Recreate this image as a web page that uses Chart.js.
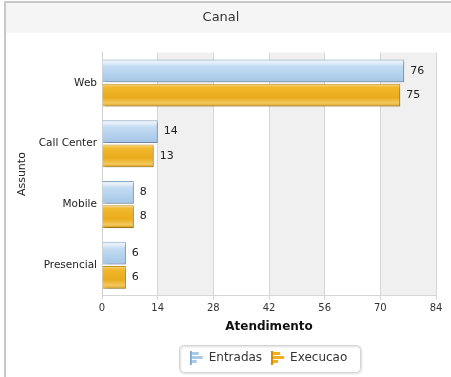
<!DOCTYPE html>
<html>
<head>
<meta charset="utf-8">
<script src="https://cdn.jsdelivr.net/npm/chart.js@4.4.0/dist/chart.umd.min.js"></script>
<style>
  html, body { margin: 0; padding: 0; background: #fff; }
</style>
</head>
<body>
<canvas id="canalChart" width="451" height="377"></canvas>
<script>
// data
const categories = ['Web', 'Call Center', 'Mobile', 'Presencial'];
const entradas = [76, 14, 8, 6];
const execucao = [75, 13, 8, 6];
const xTicks = [0, 14, 28, 42, 56, 70, 84];

const FONT = 'DejaVu Sans, Verdana, sans-serif';

// small bar-chart icons for the legend
function legendIcon(light, dark) {
  const c = document.createElement('canvas');
  c.width = 14; c.height = 14;
  const g = c.getContext('2d');
  g.fillStyle = dark;
  g.fillRect(0, 0, 2, 14);
  g.fillStyle = light;
  g.fillRect(2, 1, 7, 3);
  g.fillRect(2, 5, 11, 3);
  g.fillRect(2, 9, 5, 3);
  return c;
}
const iconBlue = legendIcon('#a9cbe8', '#7fa6cc');
const iconGold = legendIcon('#f0b020', '#d89000');

function barGradient(ctx, top, bottom, stops) {
  const gr = ctx.createLinearGradient(0, top, 0, bottom);
  stops.forEach(s => gr.addColorStop(s[0], s[1]));
  return gr;
}
const blueStops = [[0, '#dceaf7'], [0.12, '#e9f2fb'], [0.3, '#c3dcf2'], [0.7, '#b2d0ed'], [1, '#a4c5e6']];
const goldStops = [[0, '#f8dc94'], [0.15, '#f1b92e'], [0.6, '#eaab1c'], [0.85, '#f4c85c'], [1, '#d89c12']];

const backdropPlugin = {
  id: 'backdrop',
  afterLayout(chart) {
    // center the legend under the plot area, like the original
    const lg = chart.legend;
    const a = chart.chartArea;
    const w = lg.width;
    const cx = (a.left + a.right) / 2;
    lg.left = cx - w / 2;
    lg.right = cx + w / 2;
  },
  beforeDraw(chart) {
    const ctx = chart.ctx;
    const a = chart.chartArea;
    ctx.save();
    // title band
    ctx.fillStyle = '#f5f5f5';
    ctx.fillRect(6, 3, 445, 30);
    // frame
    ctx.strokeStyle = '#c8c8c8';
    ctx.lineWidth = 2;
    ctx.beginPath();
    ctx.moveTo(5, 377); ctx.lineTo(5, 2); ctx.lineTo(451, 2);
    ctx.stroke();
    // alternating bands
    const xs = chart.scales.x;
    for (let i = 0; i < xTicks.length - 1; i++) {
      const x0 = xs.getPixelForValue(xTicks[i]);
      const x1 = xs.getPixelForValue(xTicks[i + 1]);
      ctx.fillStyle = i % 2 === 1 ? '#f0f0f0' : '#ffffff';
      ctx.fillRect(x0, a.top, x1 - x0, a.bottom - a.top);
    }
    ctx.restore();
  },
  beforeDatasetsDraw(chart) {
    const ctx = chart.ctx;
    chart.data.datasets.forEach((ds, di) => {
      chart.getDatasetMeta(di).data.forEach(el => {
        const top = el.y - el.height / 2;
        const bottom = el.y + el.height / 2;
        const grad = barGradient(ctx, top, bottom, di === 0 ? blueStops : goldStops);
        el.options = Object.assign({}, el.options, { backgroundColor: grad });
      });
    });
    ctx.save();
    ctx.shadowColor = 'rgba(0,0,0,0.22)';
    ctx.shadowOffsetX = 2;
    ctx.shadowOffsetY = 2;
    ctx.shadowBlur = 2;
  },
  afterDatasetsDraw(chart) {
    const ctx = chart.ctx;
    ctx.restore();
    ctx.save();
    ctx.font = '11px ' + FONT;
    ctx.fillStyle = '#222';
    ctx.textBaseline = 'middle';
    chart.data.datasets.forEach((ds, di) => {
      chart.getDatasetMeta(di).data.forEach((el, i) => {
        ctx.fillText(String(ds.data[i]), el.x + 6, el.y);
      });
    });
    ctx.restore();
  },
  afterDraw(chart) {
    // box around the legend
    const lg = chart.legend;
    const ctx = chart.ctx;
    const a = chart.chartArea;
    const cx = (a.left + a.right) / 2;
    const w = lg.lineWidths[0] + 14;
    const t = lg.top + 3;
    const h = lg.height - 5;
    ctx.save();
    ctx.shadowColor = 'rgba(0,0,0,0.2)';
    ctx.shadowOffsetX = 1;
    ctx.shadowOffsetY = 1;
    ctx.shadowBlur = 2;
    ctx.strokeStyle = '#d4d4d4';
    ctx.lineWidth = 1;
    ctx.beginPath();
    ctx.roundRect(Math.round(cx - w / 2) + 0.5, Math.round(t) + 0.5, Math.round(w), Math.round(h), 4);
    ctx.stroke();
    ctx.restore();
  }
};

const chart = new Chart(document.getElementById('canalChart'), {
  type: 'bar',
  data: {
    labels: categories,
    datasets: [
      { label: 'Entradas', data: entradas, borderColor: '#8ea9c4', borderWidth: 1, pointStyle: iconBlue },
      { label: 'Execucao', data: execucao, borderColor: '#c39320', borderWidth: 1, pointStyle: iconGold }
    ]
  },
  options: {
    indexAxis: 'y',
    responsive: false,
    animation: false,
    categoryPercentage: 0.8,
    barPercentage: 0.94,
    layout: { padding: { left: 6, right: 15, bottom: 3 } },
    plugins: {
      title: {
        display: true,
        text: 'Canal',
        color: '#333',
        font: { family: FONT, size: 13, weight: 'normal' },
        padding: { top: 10, bottom: 27 }
      },
      legend: {
        position: 'bottom',
        labels: {
          usePointStyle: true,
          color: '#333',
          font: { family: FONT, size: 12 },
          padding: 10
        }
      },
      tooltip: { enabled: false }
    },
    scales: {
      x: {
        min: 0,
        max: 84,
        afterBuildTicks: axis => { axis.ticks = xTicks.map(v => ({ value: v })); },
        grid: { color: '#d6d6d6', tickLength: 4, tickColor: '#d6d6d6' },
        border: { color: '#d6d6d6' },
        ticks: { color: '#333', font: { family: FONT, size: 10 }, padding: 3, maxRotation: 0 },
        title: {
          display: true,
          text: 'Atendimento',
          color: '#111',
          font: { family: FONT, size: 12, weight: 'bold' },
          padding: { top: 2, bottom: 8 }
        }
      },
      y: {
        afterFit: axis => { axis.width = 96; },
        grid: { display: false, drawTicks: false },
        border: { color: '#d0d0d0' },
        ticks: { color: '#222', font: { family: FONT, size: 10.5 }, padding: 5 },
        title: {
          display: true,
          text: 'Assunto',
          color: '#222',
          font: { family: FONT, size: 11 },
          padding: { top: 10, bottom: 0 }
        }
      }
    }
  },
  plugins: [backdropPlugin]
});
</script>
</body>
</html>
